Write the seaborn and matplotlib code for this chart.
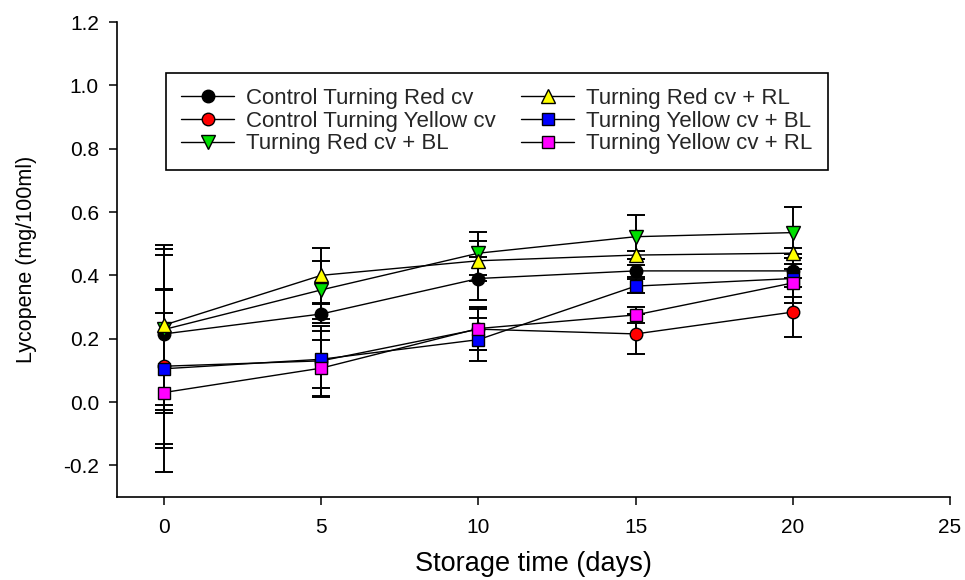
import matplotlib
matplotlib.use("Agg")
import matplotlib.pyplot as plt
import seaborn as sns

# ---- data ----
days = [0, 5, 10, 15, 20]
series_names = [
    "Control Turning Red cv",
    "Control Turning Yellow cv",
    "Turning Red cv + BL",
    "Turning Red cv + RL",
    "Turning Yellow cv + BL",
    "Turning Yellow cv + RL",
]
ctrl_red = [0.215, 0.278, 0.390, 0.414, 0.414]
ctrl_red_err = [0.250, 0.030, 0.068, 0.018, 0.023]
ctrl_yellow = [0.113, 0.130, 0.230, 0.215, 0.284]
ctrl_yellow_err = [0.245, 0.110, 0.065, 0.064, 0.078]
red_bl = [0.229, 0.354, 0.470, 0.522, 0.535]
red_bl_err = [0.254, 0.092, 0.068, 0.069, 0.080]
red_rl = [0.243, 0.400, 0.446, 0.464, 0.470]
red_rl_err = [0.253, 0.087, 0.064, 0.012, 0.016]
yellow_bl = [0.105, 0.135, 0.197, 0.366, 0.390]
yellow_bl_err = [0.250, 0.090, 0.067, 0.023, 0.078]
yellow_rl = [0.030, 0.107, 0.232, 0.275, 0.376]
yellow_rl_err = [0.250, 0.090, 0.068, 0.026, 0.043]

x_ticks = [0, 5, 10, 15, 20, 25]
y_ticks = [-0.2, 0.0, 0.2, 0.4, 0.6, 0.8, 1.0, 1.2]
y_tick_labels = ["-0.2", "0.0", "0.2", "0.4", "0.6", "0.8", "1.0", "1.2"]

values = [ctrl_red, ctrl_yellow, red_bl, red_rl, yellow_bl, yellow_rl]
errors = [ctrl_red_err, ctrl_yellow_err, red_bl_err, red_rl_err, yellow_bl_err, yellow_rl_err]

# ---- styles ----
face_colors = ["black", "red", "#00e000", "yellow", "blue", "magenta"]
markers = ["o", "o", "v", "^", "s", "s"]
marker_sizes = [9, 9, 9.5, 9.5, 8.5, 8.5]

sns.set_theme(style="ticks")
plt.rcParams["font.family"] = ["Liberation Sans", "DejaVu Sans"]
plt.rcParams["axes.unicode_minus"] = False

W, H = 965, 580
fig = plt.figure(figsize=(W / 100, H / 100), dpi=100)
ax = fig.add_axes([117 / W, 1 - 497 / H, (950 - 117) / W, (497 - 22) / H])

for name, vals, errs, fc, mk, ms in zip(series_names, values, errors, face_colors, markers, marker_sizes):
    ax.errorbar(days, vals, yerr=errs, fmt="none", ecolor="black",
                elinewidth=1.4, capsize=6.5, capthick=1.4, zorder=2)
    sns.lineplot(x=days, y=vals, ax=ax, color="black", linewidth=1.0,
                 marker=mk, markersize=ms, markerfacecolor=fc,
                 markeredgecolor="black", markeredgewidth=1.0,
                 label=name, zorder=3)

ax.set_xlim(-1.5, 25)
ax.set_ylim(-0.3, 1.2)
ax.set_xticks(x_ticks)
ax.set_xticklabels([str(t) for t in x_ticks])
ax.set_yticks(y_ticks)
ax.set_yticklabels(y_tick_labels)

for side in ["top", "right"]:
    ax.spines[side].set_visible(False)
for side in ["left", "bottom"]:
    ax.spines[side].set_color("black")
    ax.spines[side].set_linewidth(1.2)

ax.tick_params(axis="both", direction="out", length=6, width=1.1,
               colors="black", labelsize=15)
ax.tick_params(axis="y", pad=7)
ax.tick_params(axis="x", pad=9)

ax.set_xlabel("Storage time (days)", fontsize=19.5, color="black", labelpad=10)
ax.set_ylabel("Lycopene (mg/100ml)", fontsize=15.5, color="black", labelpad=19)

leg = ax.legend(ncol=2, loc="upper left", bbox_to_anchor=(0.059, 0.893),
                fontsize=16, frameon=True, fancybox=False,
                framealpha=1, edgecolor="black", handlelength=2.39,
                handletextpad=0.54, labelspacing=0.08, borderpad=0.68,
                columnspacing=1.13, borderaxespad=0.0)
leg.get_frame().set_linewidth(1.2)

fig.savefig("out.png", dpi=100, facecolor="white")
